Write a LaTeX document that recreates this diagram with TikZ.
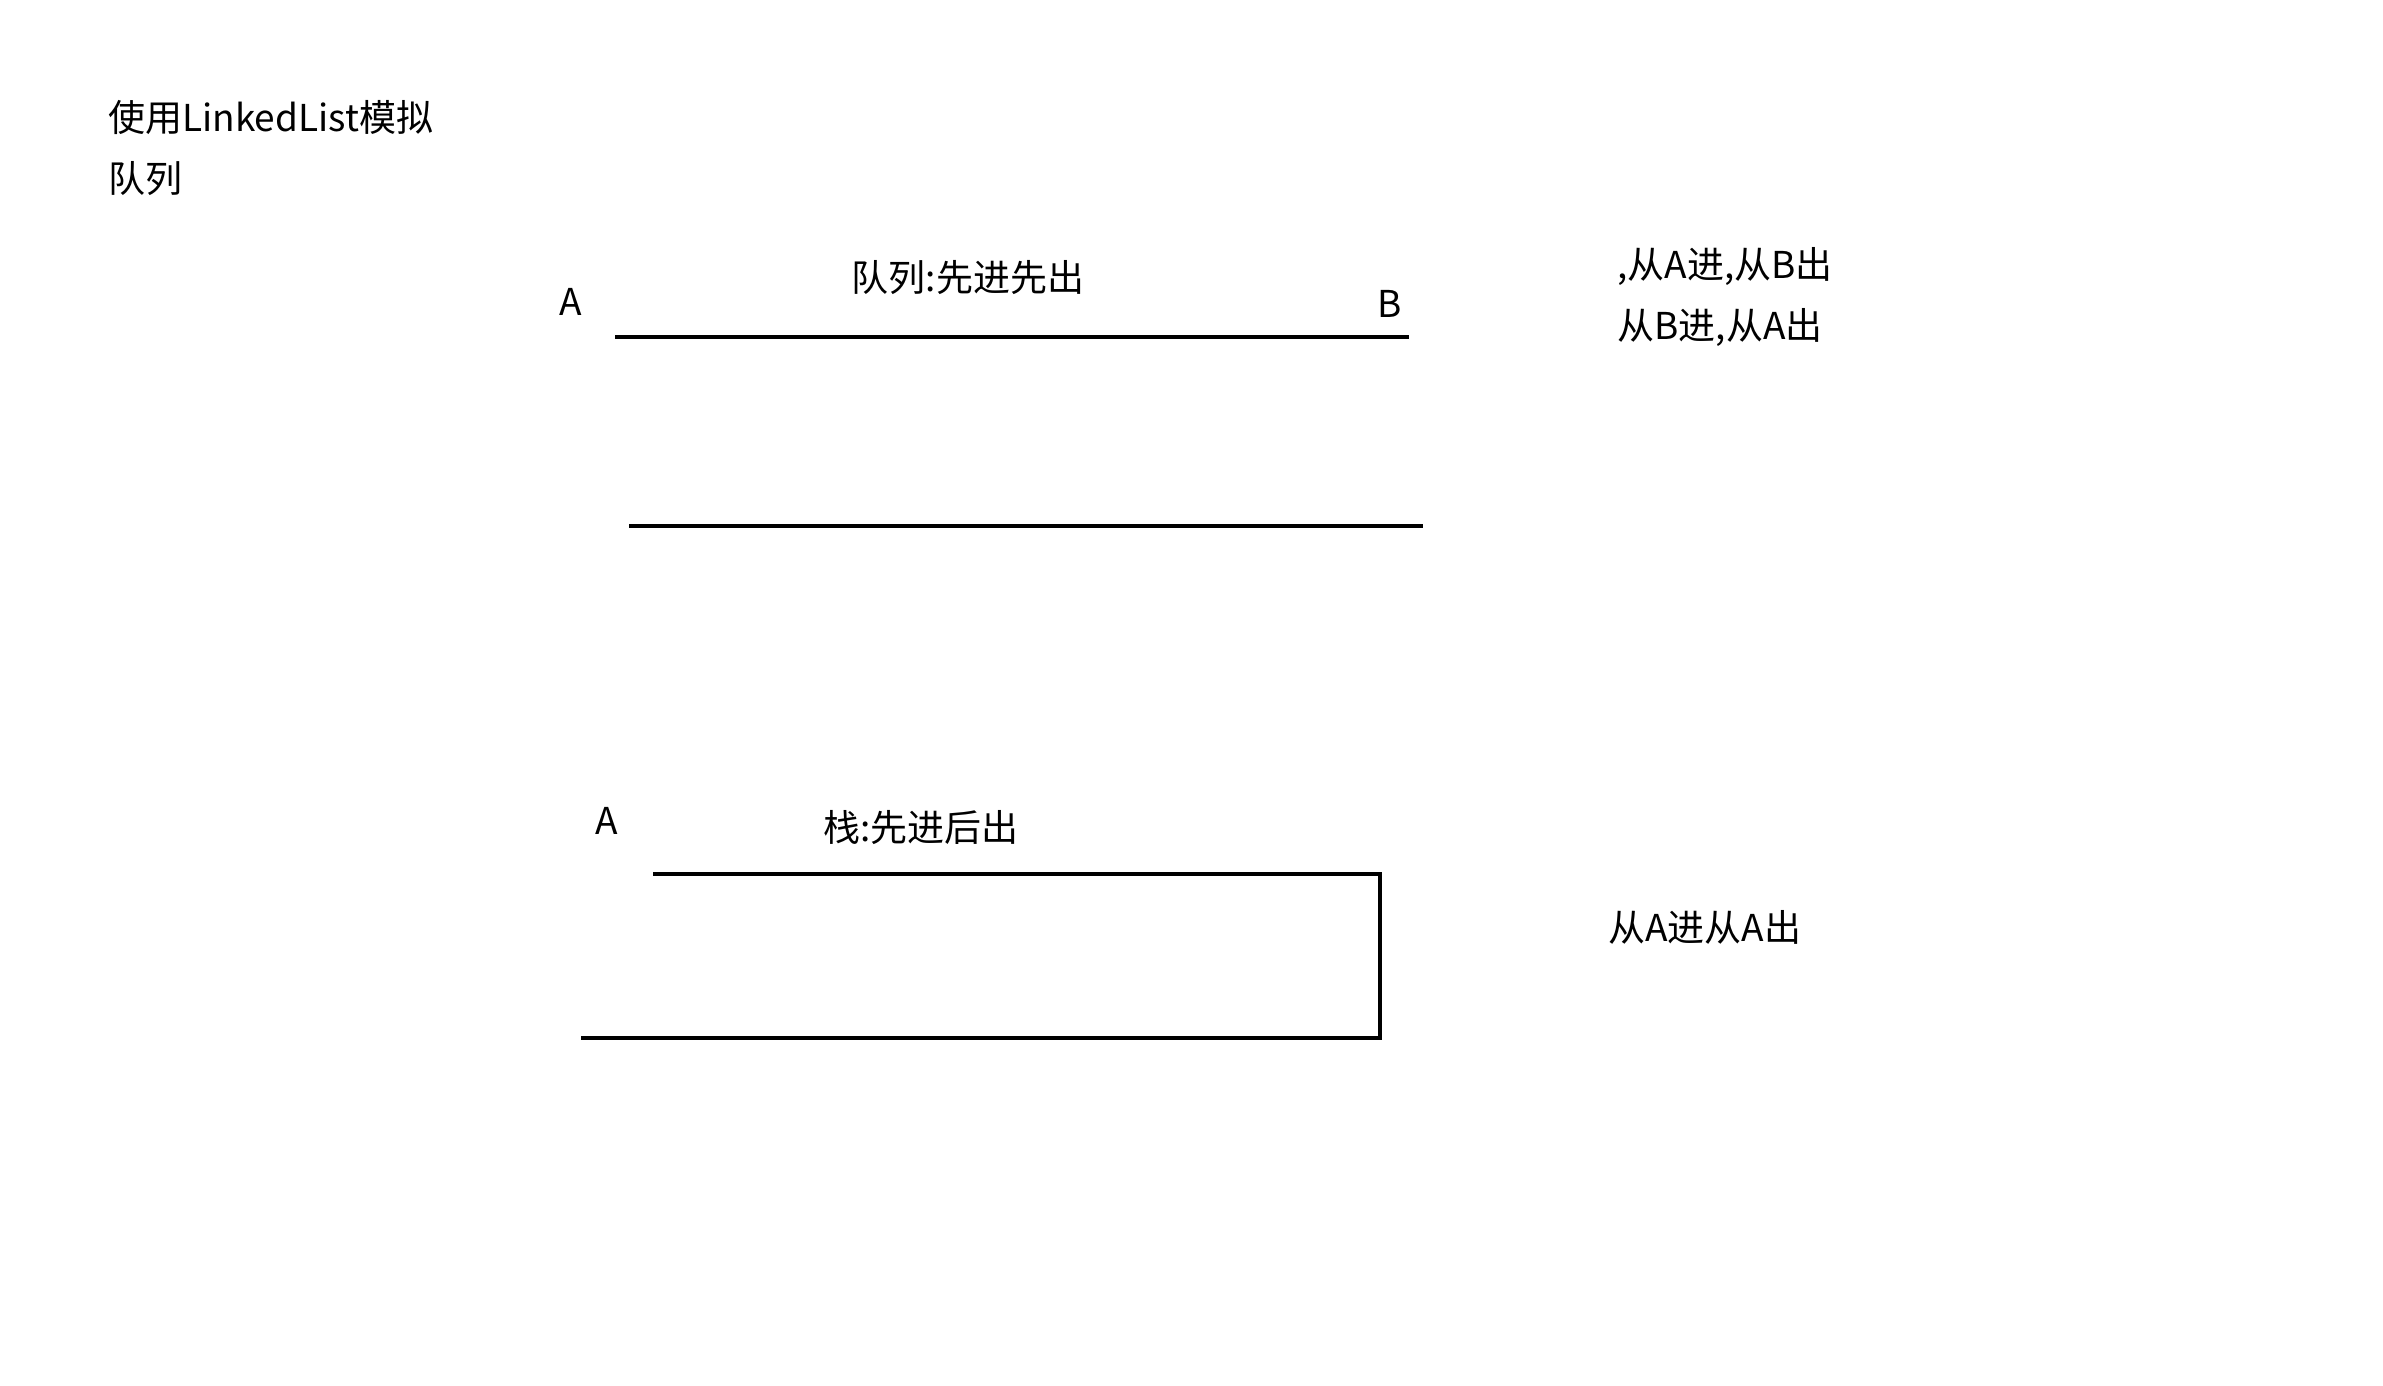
\documentclass[tikz,border=0pt]{standalone}
\usepackage{fontspec}
\setmainfont{Noto Sans CJK SC}
\usetikzlibrary{positioning}

\begin{document}
\begin{tikzpicture}[
  x=0.5pt, y=-0.5pt,
  every node/.style={font=\fontsize{18.5}{22}\selectfont, inner sep=0pt},
  txt/.style={anchor=west},
  wall/.style={line width=1.8pt, line cap=rect},
]
\useasboundingbox (0,0) rectangle (2383,1386);

% title
\node[txt] (title) at (108,117) {使用LinkedList模拟};
\node[txt] (title2) at (108,179) {队列};

% queue
\node (qa) at (571,302) {A};
\node (qname) at (968,278) {队列:先进先出};
\node (qb) at (1390,304) {B};
\coordinate (q1l) at (617,337);
\coordinate (q1r) at (1407,337);
\coordinate (q2l) at (631,526);
\coordinate (q2r) at (1421,526);
\draw[wall] (q1l) -- (q1r);
\draw[wall] (q2l) -- (q2r);
\node[txt] (qin) at (1617,266) {,从A进,从B出};
\node[txt] (qout) at (1617,327) {从B进,从A出};

% stack
\node (sa) at (607,821) {A};
\node (sname) at (921,828) {栈:先进后出};
\coordinate (stl) at (653,874);
\coordinate (str) at (1380,874);
\coordinate (sbr) at (1380,1038);
\coordinate (sbl) at (581,1038);
\draw[wall, line cap=butt] (stl) -- (str) -- (sbr) -- (sbl);
\node[txt] (sio) at (1608,927) {从A进从A出};
\end{tikzpicture}
\end{document}
